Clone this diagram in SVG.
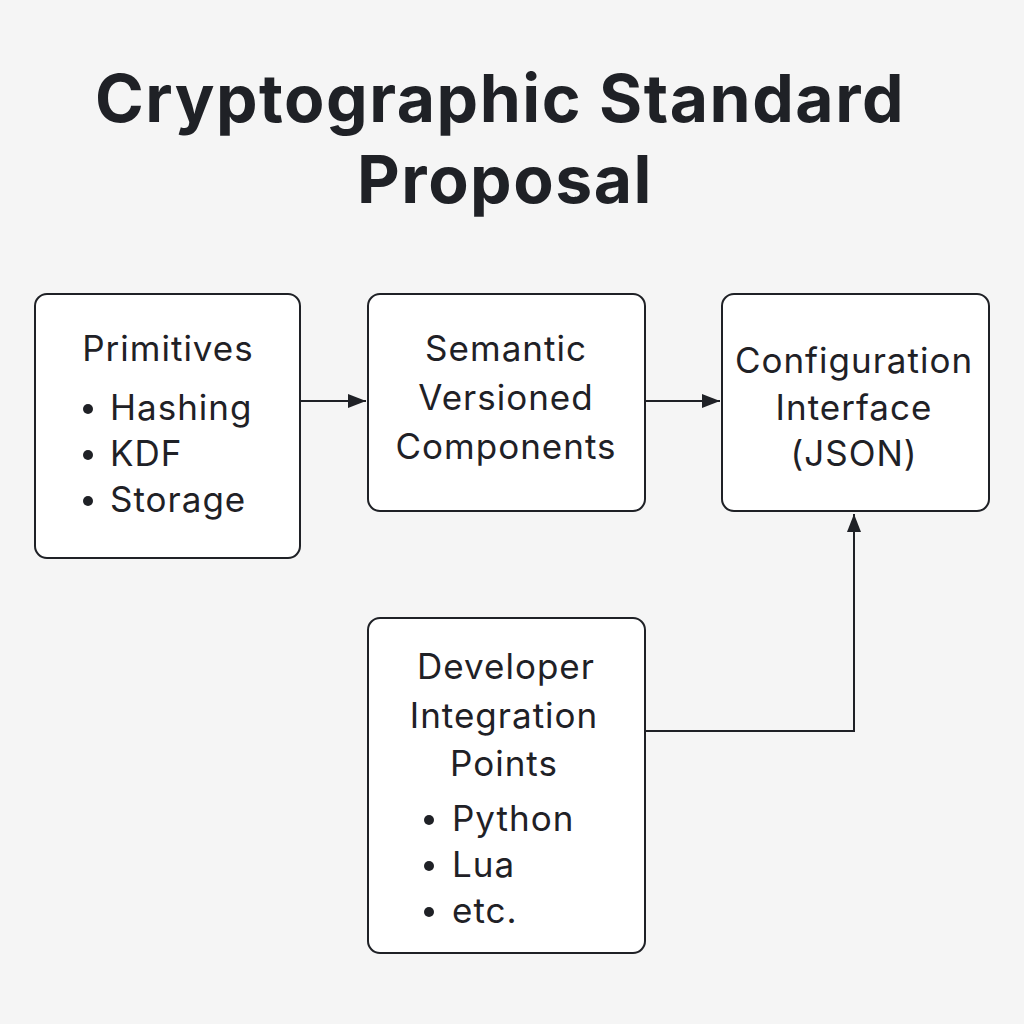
<svg xmlns="http://www.w3.org/2000/svg" width="1024" height="1024" viewBox="0 0 1024 1024">
<defs>
<marker id="arr" viewBox="0 0 18 14" refX="18" refY="7" markerWidth="18" markerHeight="14" markerUnits="userSpaceOnUse" orient="auto">
<path d="M0,0 L18,7 L0,14 z" fill="#1f2126"/>
</marker>
<style>
.box{fill:#ffffff;stroke:#1f2126;stroke-width:2}
.t{font-family:Inter,"Liberation Sans",sans-serif;font-size:35px;fill:#1f2126;letter-spacing:1px}
.c{text-anchor:middle}
.title{font-family:Inter,"Liberation Sans",sans-serif;font-size:66px;font-weight:700;fill:#1f2126;text-anchor:middle;letter-spacing:1.5px}
.ln{fill:none;stroke:#1f2126;stroke-width:2}
.dot{fill:#1f2126}
</style>
</defs>
<rect width="1024" height="1024" fill="#f5f5f5"/>
<g id="title">
<text class="title" x="500" y="122">Cryptographic Standard</text>
<text class="title" x="505" y="203">Proposal</text>
</g>
<g id="connectors">
<line class="ln" x1="300" y1="401" x2="366" y2="401" marker-end="url(#arr)"/>
<line class="ln" x1="645" y1="401" x2="720" y2="401" marker-end="url(#arr)"/>
<polyline class="ln" points="645,731 854,731 854,514" marker-end="url(#arr)"/>
</g>
<g id="primitives">
<rect class="box" x="35" y="294" width="265" height="264" rx="12"/>
<text class="t c" x="168" y="361">Primitives</text>
<circle class="dot" cx="88" cy="409" r="5"/>
<text class="t" x="110" y="420">Hashing</text>
<circle class="dot" cx="88" cy="455" r="5"/>
<text class="t" x="110" y="466">KDF</text>
<circle class="dot" cx="88" cy="501" r="5"/>
<text class="t" x="110" y="512">Storage</text>
</g>
<g id="semantic">
<rect class="box" x="368" y="294" width="277" height="217" rx="12"/>
<text class="t c" x="506" y="361">Semantic</text>
<text class="t c" x="506" y="410">Versioned</text>
<text class="t c" x="506" y="459">Components</text>
</g>
<g id="config">
<rect class="box" x="722" y="294" width="267" height="217" rx="12"/>
<text class="t c" x="854" y="373">Configuration</text>
<text class="t c" x="854" y="420">Interface</text>
<text class="t c" x="854" y="466">(JSON)</text>
</g>
<g id="developer">
<rect class="box" x="368" y="618" width="277" height="335" rx="12"/>
<text class="t c" x="506" y="679">Developer</text>
<text class="t c" x="504" y="728">Integration</text>
<text class="t c" x="504" y="776">Points</text>
<circle class="dot" cx="429" cy="820" r="5"/>
<text class="t" x="452" y="831">Python</text>
<circle class="dot" cx="429" cy="866" r="5"/>
<text class="t" x="452" y="877">Lua</text>
<circle class="dot" cx="429" cy="912" r="5"/>
<text class="t" x="452" y="923">etc.</text>
</g>
</svg>
